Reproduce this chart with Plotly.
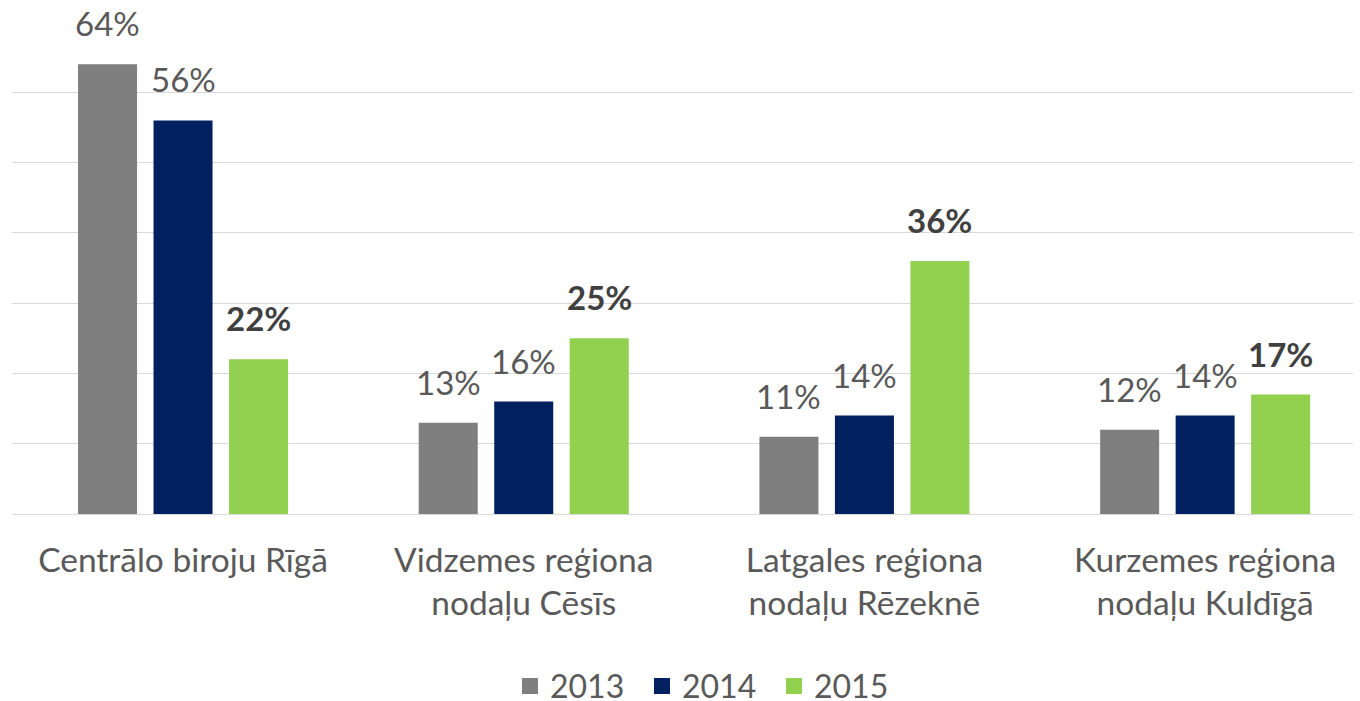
import plotly.graph_objects as go

categories = ["Centrālo biroju Rīgā", "Vidzemes reģiona<br>nodaļu Cēsīs",
              "Latgales reģiona<br>nodaļu Rēzeknē", "Kurzemes reģiona<br>nodaļu Kuldīgā"]
years = ["2013", "2014", "2015"]
v2013 = [64, 13, 11, 12]
v2014 = [56, 16, 14, 14]
v2015 = [22, 25, 36, 17]
series = [v2013, v2014, v2015]
colors = ["#7F7F7F", "#002060", "#92D050"]

FONT = "Lato"
slot = 0.2216
bw = 0.1732
xs = list(range(len(categories)))

fig = go.Figure()
annotations = []
for k, (yr, vals, col) in enumerate(zip(years, series, colors)):
    off = (k - 1) * slot
    fig.add_trace(go.Bar(
        name=yr, x=xs, y=vals, width=bw, offset=off - bw / 2,
        marker=dict(color=col, line=dict(width=0)), showlegend=False,
    ))
    fig.add_trace(go.Scatter(
        name=yr, x=[None], y=[None], mode="markers",
        marker=dict(symbol="square", size=16, color=col), showlegend=True,
    ))
    for i, v in enumerate(vals):
        bold = (k == 2)
        annotations.append(dict(
            x=i + off, y=v, xref="x", yref="y", showarrow=False,
            text=(f"<b>{v}%</b>" if bold else f"{v}%"),
            yanchor="bottom", xanchor="center", yshift=19,
            font=dict(family=FONT, size=33, color="#404040" if bold else "#595959"),
        ))

fig.update_layout(
    width=1360, height=701,
    margin=dict(l=12, r=7, t=22, b=187, autoexpand=False),
    plot_bgcolor="white", paper_bgcolor="white",
    barmode="overlay",
    showlegend=True,
    legend=dict(orientation="h", x=0.519, xanchor="center", y=-0.35, yanchor="middle",
                font=dict(family=FONT, size=32, color="#595959"),
                itemwidth=30, entrywidth=87, entrywidthmode="pixels",
                traceorder="normal"),
    annotations=annotations,
    xaxis=dict(range=[-0.502, 3.434], tickmode="array", tickvals=xs, ticktext=categories,
               showgrid=False, zeroline=False, showline=False, ticks="",
               ticklabelstandoff=23,
               tickfont=dict(family=FONT, size=33.5, color="#595959")),
    yaxis=dict(range=[0, 70], dtick=10, showticklabels=False, showgrid=True,
               gridcolor="#D9D9D9", gridwidth=1.3, zeroline=True, zerolinecolor="#D9D9D9",
               zerolinewidth=1.3, showline=False, ticks=""),
)

fig.write_html("out.html", config={"displayModeBar": False},
               post_script="document.body.style.margin='0';document.body.style.overflow='hidden';")
